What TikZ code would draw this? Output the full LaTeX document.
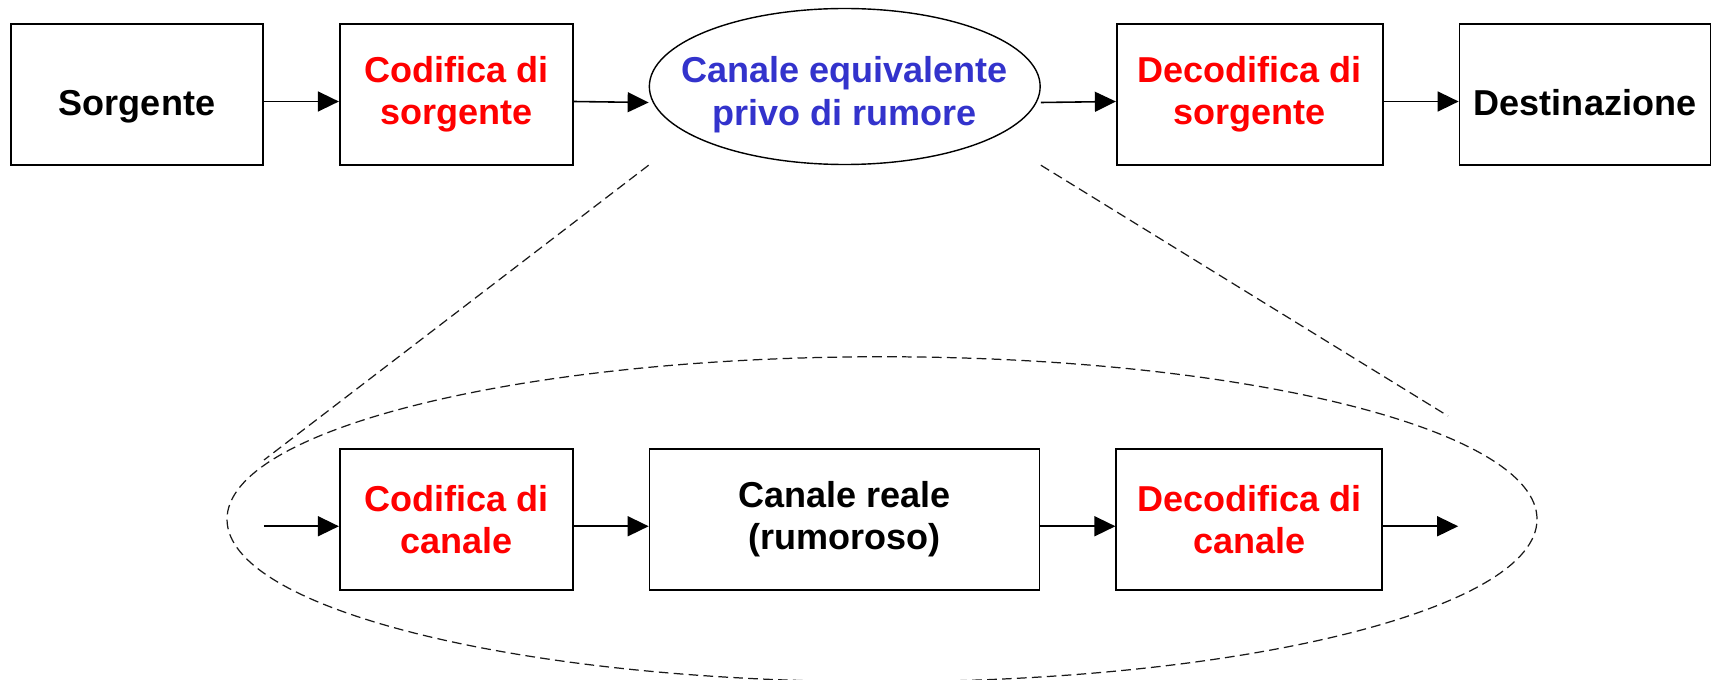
\documentclass[tikz,border=0pt]{standalone}
\usepackage{fontspec}
\setmainfont{Liberation Sans}
\usepackage{xcolor}
\usetikzlibrary{positioning,arrows.meta,shapes.geometric}
\definecolor{eqblue}{RGB}{51,51,204}

\begin{document}
\begin{tikzpicture}[node distance=1.5cm, auto,
    box/.style={rectangle, draw, line width=1pt, minimum height=2.82cm, align=center,
        font=\fontsize{20.5}{24}\selectfont\bfseries},
    oneline/.style={text height=1.0cm, text depth=0.15cm},
    eq/.style={ellipse, draw, line width=0.8pt, inner xsep=-0.5cm, inner ysep=0pt,
        minimum width=7.78cm, minimum height=3.12cm, align=center,
        font=\fontsize{20.5}{24}\selectfont\bfseries},
    arr/.style={-{Triangle[length=0.42cm,width=0.4cm]}, line width=0.9pt},
    zoomline/.style={line width=0.7pt, black!90, dash pattern=on 5.5pt off 3pt}]
    \useasboundingbox (0,0) rectangle (34.32,-13.6);

    % top row
    \node[box, oneline, minimum width=5.04cm] (srg) at (2.74,-1.89) {Sorgente};
    \node[box, minimum width=4.66cm, text=red, right=of srg] (cods) {Codifica di\\sorgente};
    \node[eq, text=eqblue, right=of cods, yshift=0.16cm] (equiv) {\rule{0pt}{0.85cm}Canale equivalente\\privo di rumore};
    \node[box, minimum width=5.32cm, text=red, right=of equiv, yshift=-0.16cm] (decs) {Decodifica di\\sorgente};
    \node[box, oneline, minimum width=5.02cm, right=of decs] (dest) {Destinazione};

    % bottom row
    \node[box, minimum width=4.66cm, text=red, below=5.64cm of cods] (codc) {Codifica di\\canale};
    \node[box, minimum width=7.8cm, right=of codc] (reale) {Canale reale\\(rumoroso)};
    \node[box, minimum width=5.32cm, text=red, right=of reale] (decc) {Decodifica di\\canale};
    \coordinate[left=of codc] (in);
    \coordinate[right=of decc] (out);

    % zoom
    \node[ellipse, draw, zoomline, inner sep=0pt, minimum width=26.2cm, minimum height=6.5cm]
        (lente) at ([xshift=0.75cm]reale.center) {};
    \coordinate (zl) at (5.28,-9.2);
    \coordinate (zr) at (28.96,-8.32);

    \draw[arr] ([yshift=-0.14cm]srg.east) -- ([yshift=-0.14cm]cods.west);
    \draw[arr] ([yshift=-0.14cm]cods.east) -- ([yshift=-0.32cm]equiv.west);
    \draw[arr] ([yshift=-0.32cm]equiv.east) -- ([yshift=-0.14cm]decs.west);
    \draw[arr] ([yshift=-0.14cm]decs.east) -- ([yshift=-0.14cm]dest.west);

    \draw[arr] ([yshift=-0.14cm]in) -- ([yshift=-0.14cm]codc.west);
    \draw[arr] ([yshift=-0.14cm]codc.east) -- ([yshift=-0.14cm]reale.west);
    \draw[arr] ([yshift=-0.14cm]reale.east) -- ([yshift=-0.14cm]decc.west);
    \draw[arr] ([yshift=-0.14cm]decc.east) -- ([yshift=-0.14cm]out);

    \draw[zoomline] (equiv.west |- equiv.south) -- (zl);
    \draw[zoomline] (equiv.east |- equiv.south) -- (zr);
\end{tikzpicture}
\end{document}
